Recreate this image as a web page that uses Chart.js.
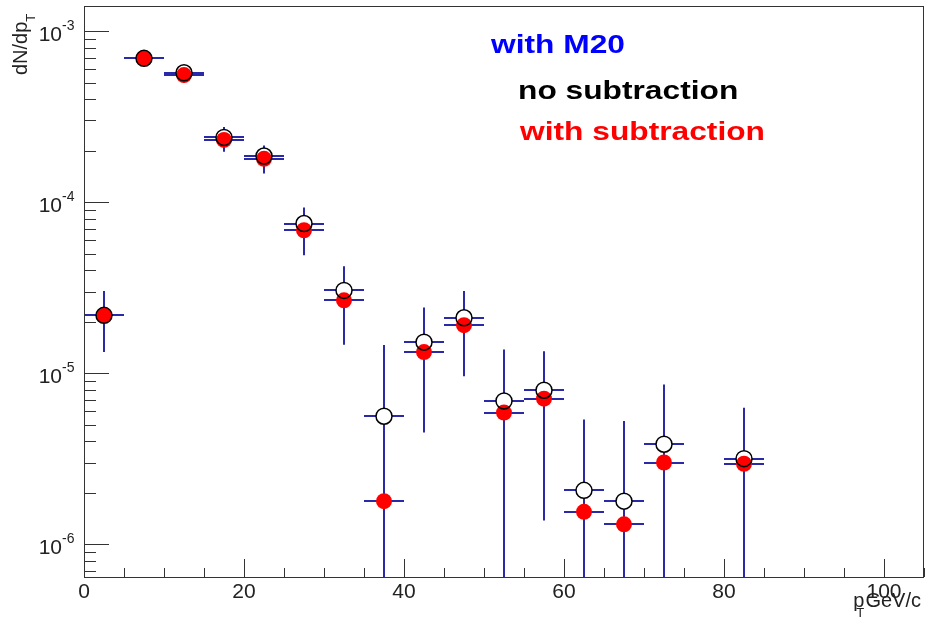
<!DOCTYPE html>
<html>
<head>
<meta charset="utf-8">
<script src="https://cdn.jsdelivr.net/npm/chart.js@4.4.1/dist/chart.umd.min.js"></script>
<style>
  body { margin: 0; background: #fff; }
  #wrap { width: 926px; height: 635px; position: relative; }
</style>
</head>
<body>
<div id="wrap"><canvas id="myChart"></canvas></div>
<script>
// pT bin centres (GeV/c), bins are 5 wide
const ptCenters = [2.5, 7.5, 12.5, 17.5, 22.5, 27.5, 32.5, 37.5, 42.5, 47.5, 52.5, 57.5, 62.5, 67.5, 72.5, 82.5];
const binWidth = 5;

// dN/dpT, no subtraction (open black circles)
const noSub = [2.18e-5, 6.92e-4, 5.70e-4, 2.39e-4, 1.86e-4, 7.50e-5, 3.05e-5, 5.61e-6, 1.52e-5, 2.11e-5, 6.89e-6, 7.96e-6, 2.07e-6, 1.79e-6, 3.85e-6, 3.17e-6];
const noSubErr = [0.85e-5, 0.5e-4, 0.55e-4, 0.36e-4, 0.28e-4, 1.8e-5, 1.17e-5, 0.9e-5, 0.9e-5, 0.92e-5, 6.9e-6, 5.5e-6, 3.3e-6, 3.47e-6, 4.74e-6, 3.12e-6];

// dN/dpT, with subtraction (red filled circles)
const withSub = [2.18e-5, 6.92e-4, 5.53e-4, 2.31e-4, 1.79e-4, 6.85e-5, 2.67e-5, 1.79e-6, 1.33e-5, 1.91e-5, 5.89e-6, 7.11e-6, 1.55e-6, 1.31e-6, 3.01e-6, 2.96e-6];
const withSubErr = [0.85e-5, 0.5e-4, 0.55e-4, 0.34e-4, 0.32e-4, 1.95e-5, 1.2e-5, 0.85e-5, 0.88e-5, 0.95e-5, 6.5e-6, 5.73e-6, 3.0e-6, 3.2e-6, 4.5e-6, 3.0e-6];

// axis ranges and tick labels
const xMin = 0, xMax = 105;
const yMin = 6.45e-7, yMax = 1.4e-3;
const xTickLabels = [0, 20, 40, 60, 80, 100];
const yTickExps = [-3, -4, -5, -6];

const legendLines = ['with M20', 'no subtraction', 'with subtraction'];

const errColor = '#2a2aa8';
const axisColor = '#333333';
const FONT = '"Liberation Sans", Arial, Helvetica, sans-serif';
const markerR = 8;

function points(vals, errs) {
    let out = [];
    for (let i = 0; i < ptCenters.length; i = i + 1) {
        out.push({ x: ptCenters[i], y: vals[i], err: errs[i] });
    }
    return out;
}

function drawText(ctx, str, x, y, size, weight, color, align, sx) {
    ctx.save();
    ctx.font = weight + ' ' + size + 'px ' + FONT;
    ctx.fillStyle = color;
    ctx.textAlign = align;
    ctx.textBaseline = 'alphabetic';
    ctx.translate(x, y);
    ctx.scale(sx || 1, 1);
    ctx.fillText(str, 0, 0);
    ctx.restore();
}

function textWidth(ctx, str, size, weight) {
    ctx.save();
    ctx.font = weight + ' ' + size + 'px ' + FONT;
    const w = ctx.measureText(str).width;
    ctx.restore();
    return w;
}

// error bars + white backing for the open markers
const errorBars = {
    id: 'errorBars',
    beforeDatasetsDraw(chart) {
        const ctx = chart.ctx;
        const x = chart.scales.x, y = chart.scales.y;
        ctx.save();
        ctx.strokeStyle = errColor;
        ctx.lineWidth = 2;
        chart.data.datasets.forEach(ds => {
            ds.data.forEach(p => {
                const px = x.getPixelForValue(p.x);
                const py = Math.round(y.getPixelForValue(p.y));
                const lo = Math.max(p.y - p.err, yMin);
                const hi = Math.min(p.y + p.err, yMax);
                ctx.beginPath();
                ctx.moveTo(x.getPixelForValue(p.x - binWidth / 2), py);
                ctx.lineTo(x.getPixelForValue(p.x + binWidth / 2), py);
                ctx.moveTo(px, y.getPixelForValue(lo));
                ctx.lineTo(px, y.getPixelForValue(hi));
                ctx.stroke();
            });
        });
        // open circles are hollow but hide the bars inside them
        ctx.fillStyle = '#ffffff';
        chart.data.datasets[1].data.forEach(p => {
            ctx.beginPath();
            ctx.arc(x.getPixelForValue(p.x), y.getPixelForValue(p.y), markerR, 0, Math.PI * 2);
            ctx.fill();
        });
        ctx.restore();
    }
};

// ROOT-like frame, inward ticks, labels and text
const rootFrame = {
    id: 'rootFrame',
    afterDatasetsDraw(chart) {
        const ctx = chart.ctx;
        const a = chart.chartArea;
        const x = chart.scales.x, y = chart.scales.y;
        ctx.save();
        ctx.strokeStyle = axisColor;
        ctx.lineWidth = 1;
        ctx.strokeRect(Math.round(a.left) + 0.5, Math.round(a.top) + 0.5, Math.round(a.right - a.left) - 1, Math.round(a.bottom - a.top));

        ctx.beginPath();
        // x ticks every 5, big ones every 20
        for (let v = xMin; v <= xMax; v = v + 5) {
            const px = Math.round(x.getPixelForValue(v)) + 0.5;
            const len = (v % 20 === 0) ? 18 : 9;
            ctx.moveTo(px, a.bottom);
            ctx.lineTo(px, a.bottom - len);
        }
        // y log ticks
        for (let e = -7; e <= -3; e = e + 1) {
            for (let k = 1; k <= 9; k = k + 1) {
                const v = k * Math.pow(10, e);
                if (v < yMin || v > yMax) continue;
                const py = Math.round(y.getPixelForValue(v)) + 0.5;
                const len = (k === 1) ? 25 : 12;
                ctx.moveTo(a.left, py);
                ctx.lineTo(a.left + len, py);
            }
        }
        ctx.stroke();
        ctx.restore();

        // tick labels
        xTickLabels.forEach(v => {
            drawText(ctx, String(v), x.getPixelForValue(v), 598, 21, 'normal', '#222', 'center');
        });
        yTickExps.forEach(e => {
            const py = y.getPixelForValue(Math.pow(10, e));
            drawText(ctx, '10', 62, py + 10, 21, 'normal', '#222', 'right');
            drawText(ctx, String(e), 62, py - 1, 14, 'normal', '#222', 'left');
        });

        // x title: p_T GeV/c
        const gw = textWidth(ctx, 'GeV/c', 20, 'normal');
        const pw = textWidth(ctx, 'p', 20, 'normal');
        const gx = 921 - gw;
        drawText(ctx, 'GeV/c', gx, 607, 20, 'normal', '#222', 'left');
        drawText(ctx, 'p', gx - pw - 1, 607, 20, 'normal', '#222', 'left');
        drawText(ctx, 'T', gx - pw + 2, 617, 13, 'normal', '#222', 'left');

        // y title: dN/dp_T
        ctx.save();
        ctx.translate(27, 75);
        ctx.rotate(-Math.PI / 2);
        const dw = textWidth(ctx, 'dN/dp', 20, 'normal');
        drawText(ctx, 'dN/dp', 0, 0, 20, 'normal', '#222', 'left');
        drawText(ctx, 'T', dw, 8, 13, 'normal', '#222', 'left');
        ctx.restore();

        // legend text
        drawText(ctx, legendLines[0], 491, 53, 26, 'bold', '#0000ff', 'left', 1.22);
        drawText(ctx, legendLines[1], 518, 99, 26, 'bold', '#000000', 'left', 1.22);
        drawText(ctx, legendLines[2], 520, 140, 26, 'bold', '#ff0000', 'left', 1.22);
    }
};

const ctx = document.getElementById('myChart').getContext('2d');
const myChart = new Chart(ctx, {
    type: 'scatter',
    data: {
        datasets: [{
            label: 'with subtraction',
            data: points(withSub, withSubErr),
            order: 1,
            pointRadius: markerR,
            pointBackgroundColor: '#ff0000',
            pointBorderColor: '#ff0000',
            pointBorderWidth: 0,
            showLine: false
        }, {
            label: 'no subtraction',
            data: points(noSub, noSubErr),
            order: 0,
            pointRadius: markerR,
            pointBackgroundColor: 'rgba(0,0,0,0)',
            pointBorderColor: '#000000',
            pointBorderWidth: 1.5,
            showLine: false
        }]
    },
    options: {
        responsive: true,
        maintainAspectRatio: false,
        animation: false,
        events: [],
        layout: { autoPadding: false, padding: { left: 84, right: 2, top: 6, bottom: 58 } },
        plugins: {
            legend: { display: false },
            tooltip: { enabled: false }
        },
        scales: {
            x: {
                type: 'linear',
                min: xMin,
                max: xMax,
                display: false
            },
            y: {
                type: 'logarithmic',
                min: yMin,
                max: yMax,
                bounds: 'data',
                display: false
            }
        }
    },
    plugins: [errorBars, rootFrame]
});
</script>
</body>
</html>
